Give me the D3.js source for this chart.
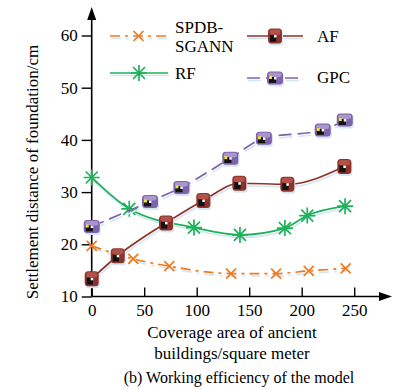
<!DOCTYPE html>
<html><head><meta charset="utf-8">
<script src="https://cdn.jsdelivr.net/npm/d3@7/dist/d3.min.js"></script>
<style>body{margin:0;background:#fff}svg{display:block}
svg text{font-family:"Liberation Serif","Times New Roman",Times,"DejaVu Serif",serif !important;}</style>
</head><body>
<script>
const xTicks = [0, 50, 100, 150, 200, 250];
const yTicks = [10, 20, 30, 40, 50, 60];
const spdbX = [0, 39.6, 73.9, 132.7, 175.6, 206.7, 241.9];
const spdbY = [19.7, 17.2, 15.8, 14.4, 14.4, 14.9, 15.4];
const afX = [0, 24.8, 70.8, 106.3, 140.6, 186.3, 240.6];
const afY = [13.4, 17.8, 24.1, 28.4, 31.7, 31.5, 34.9];
const rfX = [0, 35.8, 97.4, 141.2, 184, 205.3, 241.3];
const rfY = [32.8, 26.8, 23.2, 21.8, 23.1, 25.5, 27.3];
const gpcX = [0, 55.5, 85.4, 132, 164, 220, 241];
const gpcY = [23.4, 28.2, 30.9, 36.5, 40.3, 41.9, 43.8];
const seriesNames = ["SPDB-SGANN", "AF", "RF", "GPC"];

const W = 396, H = 390;
const svg = d3.select("body").append("svg").attr("width", W).attr("height", H);

const x = d3.scaleLinear().domain([0, 250]).range([91.7, 354.2]);
const y = d3.scaleLinear().domain([10, 60]).range([296.5, 35.5]);

// axes
const axG = svg.append("g");
axG.append("line").attr("x1", x(0)).attr("x2", 383).attr("y1", y(10)).attr("y2", y(10)).attr("stroke", "#000").attr("stroke-width", 1.6);
axG.append("line").attr("x1", x(0)).attr("x2", x(0)).attr("y1", y(10)).attr("y2", 16).attr("stroke", "#000").attr("stroke-width", 1.6);
axG.append("path").attr("d", `M${x(0)},7 L${x(0)-4.5},20 L${x(0)+4.5},20 Z`).attr("fill", "#000");
axG.append("path").attr("d", `M392,${y(10)} L379,${y(10)-4.5} L379,${y(10)+4.5} Z`).attr("fill", "#000");

const xAxis = d3.axisBottom(x).tickValues(xTicks).tickSize(0).tickPadding(0);
const xg = svg.append("g").attr("transform", `translate(0,${y(10)})`).call(xAxis);
xg.select(".domain").remove();
xg.selectAll("text").attr("dy", "1.15em").attr("font-size", 17).attr("fill", "#000");
xg.selectAll(".tick").append("line").attr("y1", 0).attr("y2", -9).attr("stroke", "#000").attr("stroke-width", 1.4);

const yAxis = d3.axisLeft(y).tickValues(yTicks).tickSize(10).tickPadding(4);
const yg = svg.append("g").attr("transform", `translate(${x(0)},0)`).call(yAxis);
yg.select(".domain").remove();
yg.selectAll(".tick line").attr("stroke", "#000").attr("stroke-width", 1.4);
yg.selectAll("text").attr("font-size", 17).attr("fill", "#000");

// axis titles
svg.append("text").attr("transform", `translate(38,${(y(10)+y(60))/2 + 6}) rotate(-90)`)
  .attr("text-anchor", "middle").attr("font-size", 17).text("Settlement distance of foundation/cm");
svg.append("text").attr("x", 232).attr("y", 338).attr("text-anchor", "middle").attr("font-size", 17).text("Coverage area of ancient");
svg.append("text").attr("x", 232).attr("y", 359).attr("text-anchor", "middle").attr("font-size", 17).text("buildings/square meter");
svg.append("text").attr("x", 239).attr("y", 383).attr("text-anchor", "middle").attr("font-size", 16).text("(b) Working efficiency of the model");

const colors = { spdb: "#ee7a22", af: "#8e3229", rf: "#1db25a", gpc: "#7d63ab" };
const shadow = "#d6e5f3";
const line = d3.line().curve(d3.curveMonotoneX);

function series(xs, ys, color, dash, marker) {
  const pts = xs.map((v, i) => [x(v), y(ys[i])]);
  const g = svg.append("g");
  g.append("path").attr("d", line(pts.map(p => [p[0] + 1, p[1] + 2.5]))).attr("fill", "none")
    .attr("stroke", shadow).attr("stroke-width", 1.6).attr("stroke-dasharray", dash);
  g.append("path").attr("d", line(pts)).attr("fill", "none").attr("stroke", color)
    .attr("stroke-width", 1.7).attr("stroke-dasharray", dash);
  pts.forEach(p => marker(g, p[0], p[1]));
}

function crossM(g, cx, cy) {
  const s = 5;
  g.append("path").attr("d", `M${cx-s},${cy-s}L${cx+s},${cy+s}M${cx-s},${cy+s}L${cx+s},${cy-s}`)
    .attr("stroke", colors.spdb).attr("stroke-width", 1.7).attr("fill", "none");
}
function starM(g, cx, cy) {
  const s = 8, d = 6;
  g.append("path").attr("d", `M${cx},${cy-s}L${cx},${cy+s}M${cx-d},${cy-d}L${cx+d},${cy+d}M${cx-d},${cy+d}L${cx+d},${cy-d}M${cx-s},${cy}L${cx+s},${cy}`)
    .attr("stroke", colors.rf).attr("stroke-width", 1.7).attr("fill", "none");
}
function cubeM(g, cx, cy, base, light, w, h, yellow) {
  g.append("rect").attr("x", cx - w/2 + 1).attr("y", cy - h/2 + 2).attr("width", w).attr("height", h).attr("rx", 3).attr("fill", shadow);
  g.append("rect").attr("x", cx - w/2).attr("y", cy - h/2).attr("width", w).attr("height", h).attr("rx", 3.5).attr("fill", base);
  g.append("rect").attr("x", cx - w/2 + 1.5).attr("y", cy - h/2 + 1).attr("width", w - 3).attr("height", h * 0.35).attr("rx", 2).attr("fill", light);
  g.append("rect").attr("x", cx - w/2 + 2).attr("y", cy - 1).attr("width", w * 0.45).attr("height", h * 0.45).attr("fill", "#111");
  if (yellow) g.append("rect").attr("x", cx - w/2 + 2).attr("y", cy - 2).attr("width", 3).attr("height", 3).attr("fill", "#f5e13a");
  g.append("rect").attr("x", cx - 1).attr("y", cy - 1).attr("width", 2.5).attr("height", 2.5).attr("fill", "#fff");
}
function afM(g, cx, cy) { cubeM(g, cx, cy, colors.af, "#b2524a", 14, 15, false); }
function gpcM(g, cx, cy) { cubeM(g, cx, cy, colors.gpc, "#a996cc", 16, 13, true); }

series(spdbX, spdbY, colors.spdb, "10,5,3,5", crossM);
series(rfX, rfY, colors.rf, null, starM);
series(afX, afY, colors.af, null, afM);
series(gpcX, gpcY, colors.gpc, "13,6", gpcM);

// legend
const lg = svg.append("g");
function legendItem(x1, x2, ly, color, dash, marker) {
  lg.append("line").attr("x1", x1 + 1).attr("x2", x2 + 1).attr("y1", ly + 2.5).attr("y2", ly + 2.5).attr("stroke", shadow).attr("stroke-width", 1.6).attr("stroke-dasharray", dash);
  lg.append("line").attr("x1", x1).attr("x2", x2).attr("y1", ly).attr("y2", ly).attr("stroke", color).attr("stroke-width", 1.7).attr("stroke-dasharray", dash);
  marker(lg, (x1 + x2) / 2, ly);
}
legendItem(110, 167, 36, colors.spdb, "10,5,3,5", crossM);
legendItem(247, 303, 36, colors.af, null, afM);
legendItem(110, 168, 73, colors.rf, null, starM);
legendItem(247, 303, 78, colors.gpc, "13,6", gpcM);
lg.append("text").attr("x", 175).attr("y", 33).attr("font-size", 17).text("SPDB-");
lg.append("text").attr("x", 175).attr("y", 52).attr("font-size", 17).text("SGANN");
lg.append("text").attr("x", 317).attr("y", 42).attr("font-size", 17).text("AF");
lg.append("text").attr("x", 175).attr("y", 79).attr("font-size", 17).text("RF");
lg.append("text").attr("x", 317).attr("y", 83).attr("font-size", 17).text("GPC");
</script>
</body></html>
